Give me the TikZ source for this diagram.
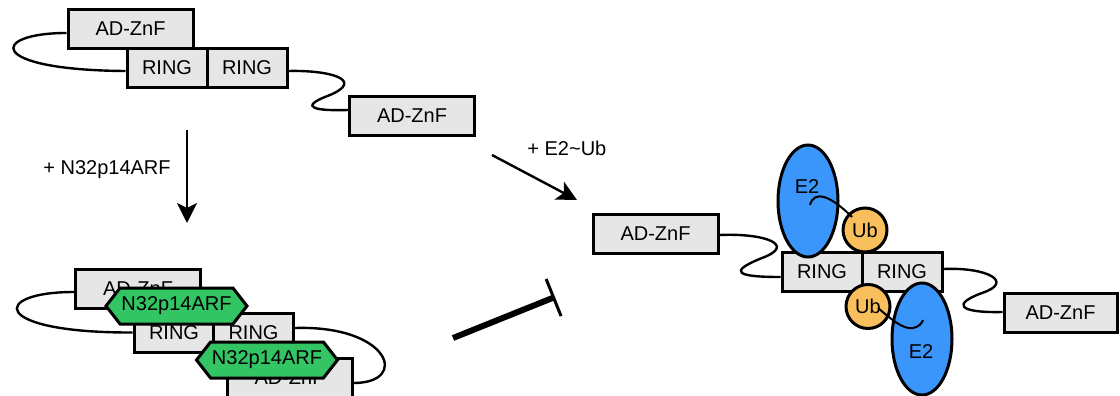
\documentclass[tikz,border=0pt]{standalone}
\usepackage{fontspec}
\setmainfont{Liberation Sans}
\usetikzlibrary{arrows.meta,shapes.geometric,shapes.symbols}
\definecolor{boxgray}{HTML}{E6E6E6}
\definecolor{arfgreen}{HTML}{33C463}
\definecolor{etwoblue}{HTML}{3A96FA}
\definecolor{uborange}{HTML}{F8BF5C}
\newcommand{\lblfont}{\fontsize{10}{12}\selectfont}
\tikzset{
  dom/.style={draw,line width=1.5pt,fill=boxgray,inner sep=0pt,minimum height=19.5pt,font=\lblfont},
  adznf/.style={dom,minimum width=62.5pt},
  ring/.style={dom,minimum width=40pt},
  linker/.style={line width=1.2pt},
  arf/.style={signal,signal to=east and west,signal pointer angle=104,draw,line width=1.5pt,
    fill=arfgreen,inner sep=0pt,minimum width=70.5pt,minimum height=18pt,font=\lblfont},
  etwo/.style={ellipse,draw,line width=1.5pt,fill=etwoblue,inner sep=0pt,minimum width=30pt,minimum height=56pt},
  ub/.style={circle,draw,line width=1.5pt,fill=uborange,inner sep=0pt,minimum size=22pt,font=\lblfont},
  tag/.style={inner sep=0pt,font=\lblfont},
  tether/.style={line width=1pt},
  rxn/.style={line width=1.2pt,-{Stealth[length=10pt,width=10pt,inset=2.5pt]}},
  blocked/.style={line width=3pt,-{Bar[width=20pt,line width=1.5pt]}}
}
\begin{document}
\begin{tikzpicture}[x=0.5pt,y=-0.5pt]
\useasboundingbox (0,0) rectangle (1120,396);
% free dimer
\node[adznf] (adA) at (130.5,29) {AD-ZnF};
\node[ring] (rgA) at (167,67.5) {RING};
\node[ring] (rgB) at (247,67.5) {RING};
\node[adznf] (adB) at (412,116) {AD-ZnF};
\draw[linker] ([yshift=-2pt]adA.west) .. controls (-10,33) and (-15,70) .. ([yshift=-1.75pt]rgA.west);
\draw[linker] ([yshift=-1.75pt]rgB.east) .. controls (330,70) and (365,80) .. (330,95)
  .. controls (295,108) and (318,111) .. ([yshift=3pt]adB.west);

% arrows
\coordinate (dnS) at (187,130); \coordinate (dnE) at (187,223);
\draw[rxn] (dnS) -- (dnE);
\node[tag,anchor=west] (lblarf) at (43,170) {+ N32p14ARF};
\coordinate (dgS) at (492,155); \coordinate (dgE) at (577,200);
\draw[rxn] (dgS) -- (dgE);
\node[tag,anchor=west] (lblub) at (527,148) {+ E2\textasciitilde Ub};
\coordinate (inS) at (453,338); \coordinate (inE) at (555,297);
\draw[blocked] (inS) -- (inE);

% ARF bound
\node[adznf] (adC) at (138,288.5) {AD-ZnF};
\node[ring] (rgC) at (174,332.5) {RING};
\node[ring] (rgD) at (253.5,332.5) {RING};
\node[adznf] (adD) at (289.5,377.5) {AD-ZnF};
\draw[linker] ([yshift=-1.75pt]adC.west) .. controls (-10,292) and (-10,333) .. ([yshift=0pt]rgC.west);
\draw[linker] ([yshift=2.25pt]rgD.east) .. controls (390,325) and (410,383) .. ([yshift=-2.75pt]adD.east);
\node[arf] (arfA) at (176.5,306) {N32p14ARF};
\node[arf] (arfB) at (267,360) {N32p14ARF};

% E2~Ub bound
\node[adznf] (adE) at (655.5,233.5) {AD-ZnF};
\node[ring] (rgE) at (822,272) {RING};
\node[ring] (rgF) at (902,272) {RING};
\node[adznf,minimum width=56.5pt] (adF) at (1060.5,313) {AD-ZnF};
\draw[linker] ([yshift=-0.75pt]adE.east) .. controls (765,233) and (797,245) .. (762,258)
  .. controls (727,272) and (737,277) .. ([yshift=-2.5pt]rgE.west);
\draw[linker] ([yshift=1.5pt]rgF.east) .. controls (987,267) and (1015,282) .. (982,293)
  .. controls (952,304) and (958,313) .. ([yshift=0.5pt]adF.west);
\node[etwo] (etA) at (808,201) {};
\node[tag] (lbletA) at (807,187) {E2};
\node[ub] (ubA) at (865,230) {Ub};
\draw[tether] (810,205) .. controls (814,190) and (830,195) .. (852,217);
\node[ub] (ubB) at (868,306.5) {Ub};
\node[etwo] (etB) at (922,339) {};
\node[tag] (lbletB) at (921,352) {E2};
\draw[tether] (878,308) .. controls (890,318) and (903,330) .. (913,328)
  .. controls (919,327) and (922,323) .. (923,320);
\end{tikzpicture}
\end{document}
